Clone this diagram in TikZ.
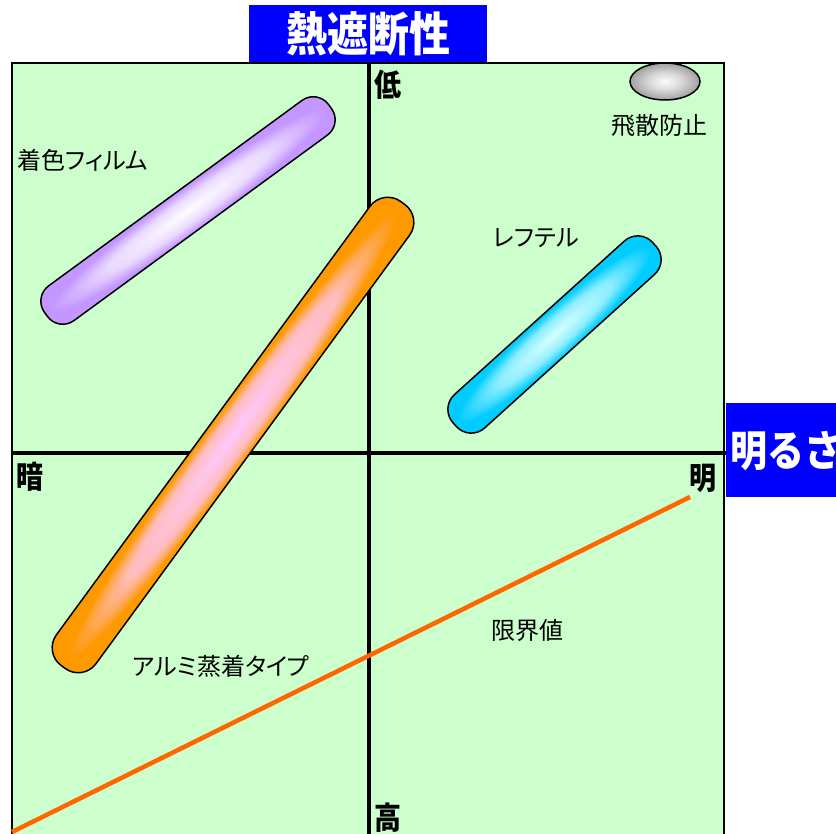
\documentclass[tikz,border=0pt]{standalone}
\usepackage{fontspec}
\usetikzlibrary{shapes.geometric}
\setmainfont{Noto Sans CJK JP}
\newfontfamily\jpk{Noto Sans CJK JP}[RawFeature=+palt]
\definecolor{bg}{RGB}{204,255,204}
\definecolor{ttl}{RGB}{0,0,255}
\definecolor{lim}{RGB}{255,102,0}
\definecolor{purO}{RGB}{196,150,255}
\definecolor{purI}{RGB}{254,252,255}
\colorlet{purM}{purI!65!purO}
\definecolor{oraO}{RGB}{255,153,0}
\definecolor{oraI}{RGB}{255,200,252}
\colorlet{oraM}{oraI!75!oraO}
\definecolor{cyaO}{RGB}{0,204,255}
\definecolor{cyaI}{RGB}{215,255,255}
\colorlet{cyaM}{cyaI!65!cyaO}
\definecolor{greO}{RGB}{160,160,160}
\definecolor{greI}{RGB}{252,252,252}
\colorlet{greM}{greI!60!greO}
\pgfdeclareradialshading{purshade}{\pgfpoint{0bp}{0bp}}{color(0bp)=(purI); color(14bp)=(purM); color(24bp)=(purO); color(50bp)=(purO)}
\pgfdeclareradialshading{orashade}{\pgfpoint{0bp}{0bp}}{color(0bp)=(oraI); color(15bp)=(oraM); color(24bp)=(oraO); color(50bp)=(oraO)}
\pgfdeclareradialshading{cyashade}{\pgfpoint{0bp}{0bp}}{color(0bp)=(cyaI); color(14bp)=(cyaM); color(24bp)=(cyaO); color(50bp)=(cyaO)}
\pgfdeclareradialshading{greshade}{\pgfpoint{0bp}{0bp}}{color(0bp)=(greI); color(12bp)=(greM); color(25bp)=(greO); color(50bp)=(greO)}
\tikzset{
  capsule/.style={draw=black, line width=1.5pt, rectangle, inner sep=0pt},
  axislbl/.style={inner sep=0pt, font=\bfseries\fontsize{27}{27}\selectfont},
  lbl/.style={inner sep=0pt, font=\jpk\fontsize{24}{24}\selectfont},
  titlebox/.style={fill=ttl, text=white, inner sep=0pt, font=\bfseries}
}
\begin{document}
\begin{tikzpicture}[x=1pt,y=-1pt]
\useasboundingbox (0,0) rectangle (836,834);
% field
\draw[fill=bg, line width=2pt] (12,63) rectangle (724,840);
\coordinate (vt) at (369,63);
\coordinate (vb) at (369,836);
\coordinate (hl) at (12,453);
\coordinate (hr) at (728,453);
\draw[line width=4pt] (vt) -- (vb);
\draw[line width=4pt] (hl) -- (hr);
% limit line
\coordinate (la) at (12,832);
\coordinate (lb) at (690,497);
\draw[lim, line width=4.5pt] (la) -- (lb);
% capsules
\begin{scope}[transform canvas={shift={(188pt,-210.5pt)}, rotate=36.2}]
  \node[capsule, minimum width=352pt, minimum height=43pt, rounded corners=19pt,
        shading=purshade] (purple) at (0,0) {};
\end{scope}
\begin{scope}[transform canvas={shift={(233pt,-435pt)}, rotate=53.8}]
  \node[capsule, minimum width=575pt, minimum height=49pt, rounded corners=22pt,
        shading=orashade] (orange) at (0,0) {};
\end{scope}
\begin{scope}[transform canvas={shift={(554.5pt,-334.5pt)}, rotate=42.1}]
  \node[capsule, minimum width=269pt, minimum height=45pt, rounded corners=20pt,
        shading=cyashade] (cyan) at (0,0) {};
\end{scope}
% grey ellipse
\node[draw=black, line width=1.5pt, ellipse, shading=greshade, minimum width=70pt, minimum height=37pt, inner sep=0pt] (ell) at (665,81.5) {};
% titles
\node[titlebox, minimum width=238pt, minimum height=57pt] (ttop) at (368,34)
  {\fontsize{41}{41}\selectfont\scalebox{1}[1.14]{熱遮断性}};
\node[titlebox, minimum width=112pt, minimum height=94pt] (tright) at (782,450) {};
\node[anchor=west, inner sep=0pt, text=white, font=\bfseries\fontsize{37}{37}\selectfont] (trtext) at (730,451)
  {\scalebox{1}[1.15]{明るさ}};
% axis labels
\node[axislbl] (low) at (387.5,85) {\scalebox{1}[1.15]{低}};
\node[axislbl] (high) at (388,818) {\scalebox{1}[1.15]{高}};
\node[axislbl] (dark) at (30,477) {\scalebox{1}[1.15]{暗}};
\node[axislbl] (bright) at (703,478) {\scalebox{1}[1.15]{明}};
% labels
\node[lbl] (l1) at (659,125) {飛散防止};
\node[lbl] (l2) at (83,160) {着色フィルム};
\node[lbl] (l3) at (536,238) {レフテル};
\node[lbl] (l4) at (527,630) {限界値};
\node[lbl] (l5) at (221,666) {アルミ蒸着タイプ};
\end{tikzpicture}
\end{document}
